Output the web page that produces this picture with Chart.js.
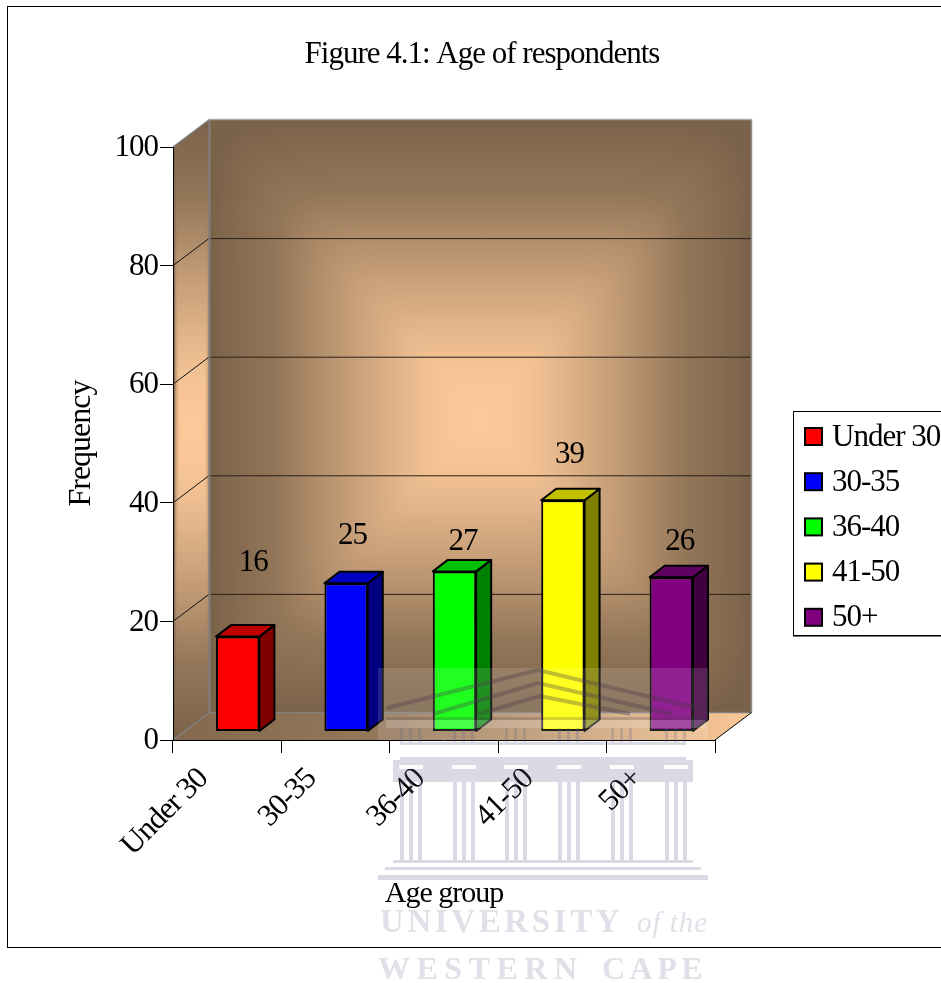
<!DOCTYPE html>
<html>
<head>
<meta charset="utf-8">
<title>Age of respondents</title>
<script src="https://cdn.jsdelivr.net/npm/chart.js@4"></script>
<style>
  html, body { margin: 0; padding: 0; background: #fff; overflow: hidden; }
  canvas { display: block; }
</style>
</head>
<body>
<canvas id="grafico" width="941" height="983"></canvas>
<script>
const categories = ["Under 30", "30-35", "36-40", "41-50", "50+"];
const frequency = [16, 25, 27, 39, 26];
const yTicks = [0, 20, 40, 60, 80, 100];
const frontColors = ["#ff0000", "#0000ff", "#00ff00", "#ffff00", "#800080"];
const sideColors = ["#800000", "#000080", "#008000", "#808000", "#400040"];
const topColors = ["#c00000", "#0000c0", "#00c000", "#c0c000", "#600060"];
// the numbers float at uneven places in the original
const labelLift = [62.5, 35.5, 18, 34, 24];
const labelShift = [0, -9, -7, -9, -7];

const SERIF = '"Liberation Serif", serif';
const WALL_DX = 36.5, WALL_DY = -27.5;   // depth of the box
const BAR_DX = 10.5, BAR_DY = -8.5;      // where the bar's front face sits in the box
const BAR_DEPTH_X = 15, BAR_DEPTH_Y = -11.5;
const SHADE = [[0, 1], [0.18, 0.93], [0.32, 0.78], [0.58, 0.45], [0.75, 0.2], [1, 0]];

// rectangular "path" gradient, drawn into a small canvas and then clipped
function pathGradient(w, h, power, xSharp) {
  const off = document.createElement('canvas');
  off.width = w; off.height = h;
  const c = off.getContext('2d');
  const img = c.createImageData(w, h);
  const dark = [122, 98, 73], light = [253, 202, 154];
  const cx = w / 2, cy = h / 2;
  for (let y = 0; y < h; y++) {
    for (let x = 0; x < w; x++) {
      const tx = Math.pow(Math.abs(x - cx) / cx, xSharp);
      const ty = Math.abs(y - cy) / cy;
      const t = Math.min(1, Math.pow(Math.pow(tx, power) + Math.pow(ty, power), 1 / power));
      let k = 0;
      for (let i = 1; i < SHADE.length; i++) {
        if (t <= SHADE[i][0]) {
          const a = SHADE[i - 1], b = SHADE[i];
          k = a[1] + (b[1] - a[1]) * (t - a[0]) / (b[0] - a[0]);
          break;
        }
      }
      const p = (y * w + x) * 4;
      for (let j = 0; j < 3; j++) img.data[p + j] = dark[j] + (light[j] - dark[j]) * k;
      img.data[p + 3] = 255;
    }
  }
  c.putImageData(img, 0, 0);
  return off;
}

function polygon(ctx, pts) {
  ctx.beginPath();
  pts.forEach((p, i) => i ? ctx.lineTo(p[0], p[1]) : ctx.moveTo(p[0], p[1]));
  ctx.closePath();
}

function line(ctx, x0, y0, x1, y1, color, width) {
  ctx.strokeStyle = color;
  ctx.lineWidth = width;
  ctx.beginPath();
  ctx.moveTo(x0, y0);
  ctx.lineTo(x1, y1);
  ctx.stroke();
}

const boxPlugin = {
  id: 'box',
  // the original's type is set tight: tall glyphs, narrow run
  beforeLayout(chart) {
    chart.ctx.letterSpacing = '-1px';
  },
  beforeDraw(chart) {
    const { ctx, scales: { x, y } } = chart;
    ctx.letterSpacing = '-1px';
    const left = x.left, right = x.right;
    const top = y.getPixelForValue(100), bottom = y.getPixelForValue(0);
    const backL = left + WALL_DX, backR = right + WALL_DX;
    const backT = top + WALL_DY, backB = bottom + WALL_DY;

    ctx.save();
    ctx.fillStyle = '#fff';
    ctx.fillRect(0, 0, chart.width, chart.height);

    // outer frame runs off the right of the page
    ctx.strokeStyle = '#000';
    ctx.lineWidth = 1;
    ctx.strokeRect(7.5, 6.5, 960, 941);

    // back wall
    const wallW = Math.round(backR - backL), wallH = Math.round(backB - backT);
    ctx.drawImage(pathGradient(wallW, wallH, 12, 1), backL, backT);

    // left wall
    const sideW = Math.round(WALL_DX), sideH = Math.round(bottom - backT);
    ctx.save();
    polygon(ctx, [[left, top], [backL, backT], [backL, backB], [left, bottom]]);
    ctx.clip();
    ctx.drawImage(pathGradient(sideW, sideH, 4, 5), left, backT);
    ctx.restore();

    // floor
    ctx.save();
    polygon(ctx, [[left, bottom], [backL, backB], [backR, backB], [right, bottom]]);
    ctx.clip();
    const floor = ctx.createLinearGradient(left, 0, backR, 0);
    floor.addColorStop(0, '#84694e');
    floor.addColorStop(0.4, '#96795b');
    floor.addColorStop(0.75, '#d0a67b');
    floor.addColorStop(1, '#fcc998');
    ctx.fillStyle = floor;
    ctx.fillRect(left, backB, backR - left, bottom - backB);
    ctx.restore();

    // grid on the walls
    yTicks.forEach(v => {
      const py = y.getPixelForValue(v);
      const edge = v === 0 || v === 100;
      line(ctx, left, py, backL, py + WALL_DY, edge ? '#808080' : '#111', edge ? 1.5 : 1);
      if (!edge) line(ctx, backL, py + WALL_DY + 0.5, backR, py + WALL_DY + 0.5, '#2a2018', 1);
    });
    line(ctx, backL, backT, backL, backB, '#808080', 2);
    line(ctx, backR, backT, backR, backB, '#909090', 1.5);
    line(ctx, backL, backB, backR, backB, '#808080', 1.5);
    line(ctx, backL, backT, backR, backT, '#a8a8a8', 1.5);
    line(ctx, right, bottom, backR, backB, '#000', 1);
    ctx.restore();
  },
  beforeDatasetsDraw(chart) {
    const { ctx } = chart;
    const bars = chart.getDatasetMeta(0).data;
    ctx.save();
    ctx.lineJoin = 'round';
    ctx.strokeStyle = '#000';
    ctx.lineWidth = 2;
    bars.forEach((bar, i) => {
      const l = bar.x - bar.width / 2 + BAR_DX, r = bar.x + bar.width / 2 + BAR_DX;
      const t = bar.y + BAR_DY, b = bar.base + BAR_DY;
      polygon(ctx, [[r, t], [r + BAR_DEPTH_X, t + BAR_DEPTH_Y], [r + BAR_DEPTH_X, b + BAR_DEPTH_Y], [r, b]]);
      ctx.fillStyle = sideColors[i];
      ctx.fill();
      ctx.stroke();
      polygon(ctx, [[l, t], [l + BAR_DEPTH_X, t + BAR_DEPTH_Y], [r + BAR_DEPTH_X, t + BAR_DEPTH_Y], [r, t]]);
      ctx.fillStyle = topColors[i];
      ctx.fill();
      ctx.stroke();
    });
    ctx.restore();
    ctx.save();
    ctx.translate(BAR_DX, BAR_DY);   // front faces are drawn by Chart.js, inside the box
  },
  afterDatasetsDraw(chart) {
    const { ctx } = chart;
    ctx.restore();
    const bars = chart.getDatasetMeta(0).data;
    ctx.save();
    ctx.fillStyle = '#000';
    ctx.font = '31px ' + SERIF;
    ctx.textAlign = 'center';
    ctx.textBaseline = 'middle';
    bars.forEach((bar, i) => {
      const px = bar.x + BAR_DX + BAR_DEPTH_X + 0.5 + labelShift[i];
      const py = bar.y + BAR_DY + BAR_DEPTH_Y - labelLift[i];
      ctx.fillText(String(frequency[i]), px, py);
    });
    ctx.restore();
  },
  afterDraw(chart) {
    const { ctx } = chart;
    ctx.save();
    // heading
    ctx.fillStyle = '#000';
    ctx.font = '31px ' + SERIF;
    ctx.textAlign = 'center';
    ctx.textBaseline = 'middle';
    ctx.fillText('Figure 4.1: Age of respondents', 482, 55);

    // legend, cut by the page edge like the frame
    ctx.strokeStyle = '#000';
    ctx.lineWidth = 1;
    ctx.fillStyle = '#fff';
    ctx.fillRect(793.5, 411.5, 200, 224);
    ctx.strokeRect(793.5, 411.5, 200, 224);
    line(ctx, 793, 636.5, 941, 636.5, '#777', 1);
    ctx.textAlign = 'left';
    categories.forEach((name, i) => {
      const cy = 436.5 + i * 45.2;
      ctx.fillStyle = frontColors[i];
      ctx.fillRect(805, cy - 8.5, 17, 17);
      ctx.strokeStyle = '#000';
      ctx.lineWidth = 2;
      ctx.strokeRect(805, cy - 8.5, 17, 17);
      ctx.fillStyle = '#000';
      ctx.fillText(name, 832, cy + 1);
    });

    drawWatermark(ctx);
    ctx.restore();
  }
};

// faded crest of the source document, printed over the chart
function drawWatermark(ctx) {
  const ink = 'rgba(95,100,140,0.24)';
  ctx.save();
  ctx.filter = 'blur(0.5px)';
  ctx.fillStyle = 'rgba(255,255,255,0.13)';
  ctx.fillRect(378, 668, 330, 72);

  ctx.strokeStyle = 'rgba(70,55,70,0.33)';
  ctx.lineWidth = 4;
  [[387, 708, 538, 670, 705, 710], [433, 714, 538, 683, 672, 714], [478, 714, 540, 696, 630, 714]].forEach(o => {
    ctx.beginPath();
    ctx.moveTo(o[0], o[1]);
    ctx.lineTo(o[2], o[3]);
    ctx.lineTo(o[4], o[5]);
    ctx.stroke();
  });
  ctx.fillStyle = 'rgba(70,55,70,0.22)';
  ctx.fillRect(386, 717, 320, 3);
  ctx.fillStyle = 'rgba(255,255,255,0.18)';
  ctx.fillRect(386, 720, 320, 8);

  ctx.fillStyle = ink;
  ctx.fillRect(393, 760, 300, 22);
  ctx.fillRect(400, 742, 286, 3);
  ctx.fillRect(400, 757, 286, 3);
  const columns = [400, 453, 505, 558, 611, 665];
  columns.forEach(cx => {
    ctx.fillStyle = 'rgba(255,255,255,0.9)';
    ctx.fillRect(cx - 1, 765, 24, 4);
    ctx.fillStyle = ink;
    [0, 9, 18].forEach(dx => ctx.fillRect(cx + dx, 782, 4, 78));
    ctx.fillRect(cx, 728, 3, 14);
    ctx.fillRect(cx + 9, 728, 3, 14);
    ctx.fillRect(cx + 18, 728, 3, 14);
  });
  ctx.fillRect(393, 860, 300, 3);
  ctx.fillRect(385, 867, 316, 3);
  ctx.fillRect(378, 875, 330, 5);

  ctx.fillStyle = 'rgba(95,100,140,0.2)';
  ctx.textAlign = 'left';
  ctx.textBaseline = 'alphabetic';
  ctx.font = 'bold 33px ' + SERIF;
  ctx.letterSpacing = '3.6px';
  ctx.fillText('UNIVERSITY', 380, 932);
  ctx.font = 'italic 29px ' + SERIF;
  ctx.letterSpacing = '1px';
  ctx.fillText('of the', 637, 932);
  ctx.font = 'bold 32px ' + SERIF;
  ctx.letterSpacing = '6.5px';
  ctx.fillText('WESTERN', 378, 979);
  ctx.letterSpacing = '4.5px';
  ctx.fillText('CAPE', 602, 979);
  ctx.restore();
}

const config = {
  type: 'bar',
  data: {
    labels: categories,
    datasets: [{
      label: 'Frequency',
      data: frequency,
      backgroundColor: frontColors,
      borderColor: '#000',
      borderWidth: 2,
      borderSkipped: false,
      categoryPercentage: 1,
      barPercentage: 0.4
    }]
  },
  options: {
    responsive: false,
    animation: false,
    layout: { padding: { left: 0, right: 226, top: 147, bottom: 71 } },
    plugins: {
      legend: { display: false },
      title: { display: false },
      tooltip: { enabled: false }
    },
    scales: {
      x: {
        afterFit(scale) { scale.height = 172; },
        grid: { drawOnChartArea: false, color: '#000', tickLength: 13, offset: true },
        border: { color: '#000', width: 1 },
        ticks: {
          color: '#000',
          font: { family: SERIF, size: 31 },
          minRotation: 45, maxRotation: 45,
          autoSkip: false,
          padding: 8,
          labelOffset: -24
        },
        title: {
          display: true,
          text: 'Age group',
          color: '#000',
          font: { family: SERIF, size: 30 },
          padding: { top: 0, bottom: 0 }
        }
      },
      y: {
        min: 0,
        max: 100,
        afterFit(scale) { scale.width = 173; },
        afterBuildTicks(scale) { scale.ticks = yTicks.map(v => ({ value: v })); },
        grid: { drawOnChartArea: false, color: '#000', tickLength: 13 },
        border: { color: '#000', width: 1 },
        ticks: {
          color: '#000',
          font: { family: SERIF, size: 31 },
          padding: 2,
          labelOffset: 1
        },
        title: {
          display: true,
          text: 'Frequency',
          color: '#000',
          font: { family: SERIF, size: 32 },
          padding: { top: 62, bottom: 0 }
        }
      }
    }
  },
  plugins: [boxPlugin]
};

new Chart(document.getElementById('grafico'), config);
</script>
</body>
</html>
